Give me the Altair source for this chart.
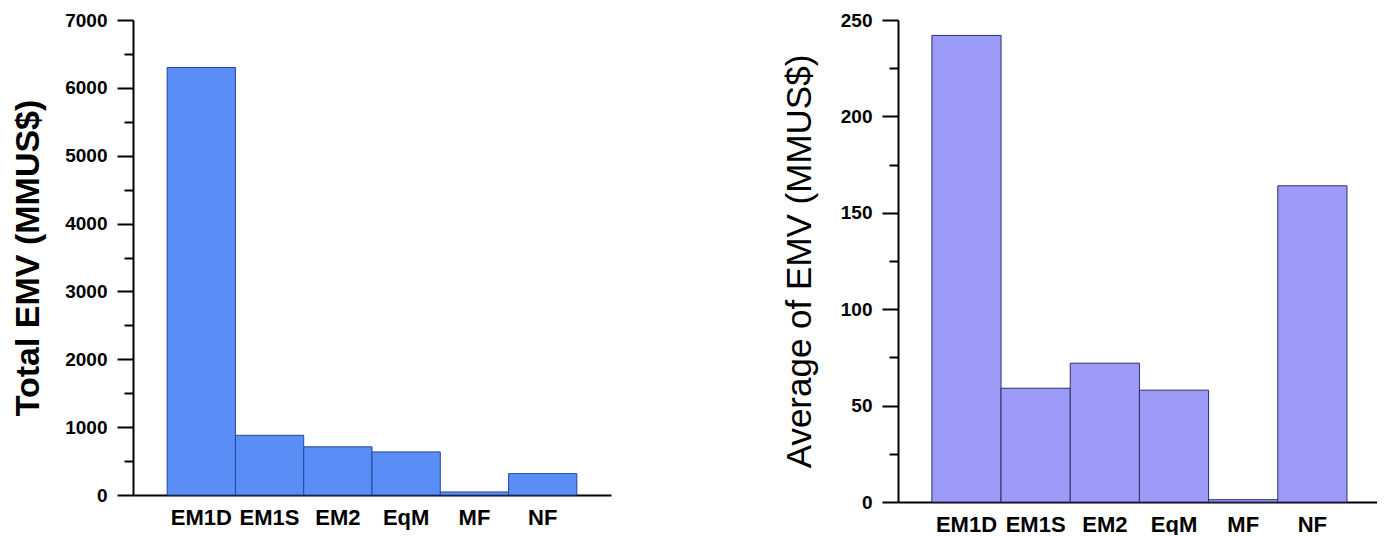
import altair as alt
import pandas as pd

categories = ["EM1D", "EM1S", "EM2", "EqM", "MF", "NF"]
total_emv = [6300, 880, 710, 635, 45, 315]
avg_emv = [242, 59, 72, 58, 1.2, 164]

df = pd.DataFrame({"cat": categories, "total": total_emv, "avg": avg_emv})

FONT = "Liberation Sans"


def panel(field, title, dmax, major, minor, color, stroke, w, h, tweight,
          pad_outer, align, title_pad, title_size):
    y_vals = list(range(0, dmax + 1, minor))
    return alt.Chart(df).mark_bar(color=color, stroke=stroke, strokeWidth=1).encode(
        x=alt.X("cat:N", sort=categories, title=None,
                scale=alt.Scale(paddingInner=0, paddingOuter=pad_outer, align=align),
                axis=alt.Axis(labelAngle=0, ticks=False, labelFont=FONT,
                              labelFontSize=22, labelFontWeight="bold",
                              labelColor="black", labelPadding=12,
                              domainColor="black", domainWidth=2)),
        y=alt.Y(f"{field}:Q", title=title,
                scale=alt.Scale(domain=[0, dmax], nice=False),
                axis=alt.Axis(values=y_vals, format="d",
                              labelExpr=f"datum.value % {major} === 0 ? datum.label : ''",
                              tickSize={"condition": {"test": f"datum.value % {major} === 0", "value": 16}, "value": 9},
                              tickWidth=2, tickColor="black",
                              domainColor="black", domainWidth=2,
                              labelFont=FONT, labelFontSize=19, labelFontWeight="bold",
                              labelColor="black", labelPadding=10, grid=False,
                              titleFont=FONT, titleFontSize=title_size, titleFontWeight=tweight,
                              titleColor="black", titlePadding=title_pad)),
    ).properties(width=w, height=h)


left = panel("total", "Total EMV (MMUS$)", 7000, 1000, 500, "#5B8DF6", "#24479A",
             478, 475, "bold", 0.5, 0.5, 19, 34)
right = panel("avg", "Average of EMV (MMUS$)", 250, 50, 25, "#9C9CF8", "#2E2E6E",
              479, 482, "normal", 0.462, 0.53, 23, 35)

chart = alt.hconcat(left, right, spacing=171).properties(
    padding={"left": 3, "top": 3, "right": 0, "bottom": 0},
    background="white",
).configure_view(strokeWidth=0, stroke=None)

chart.save("out.html", embed_options={"renderer": "svg", "actions": False})
